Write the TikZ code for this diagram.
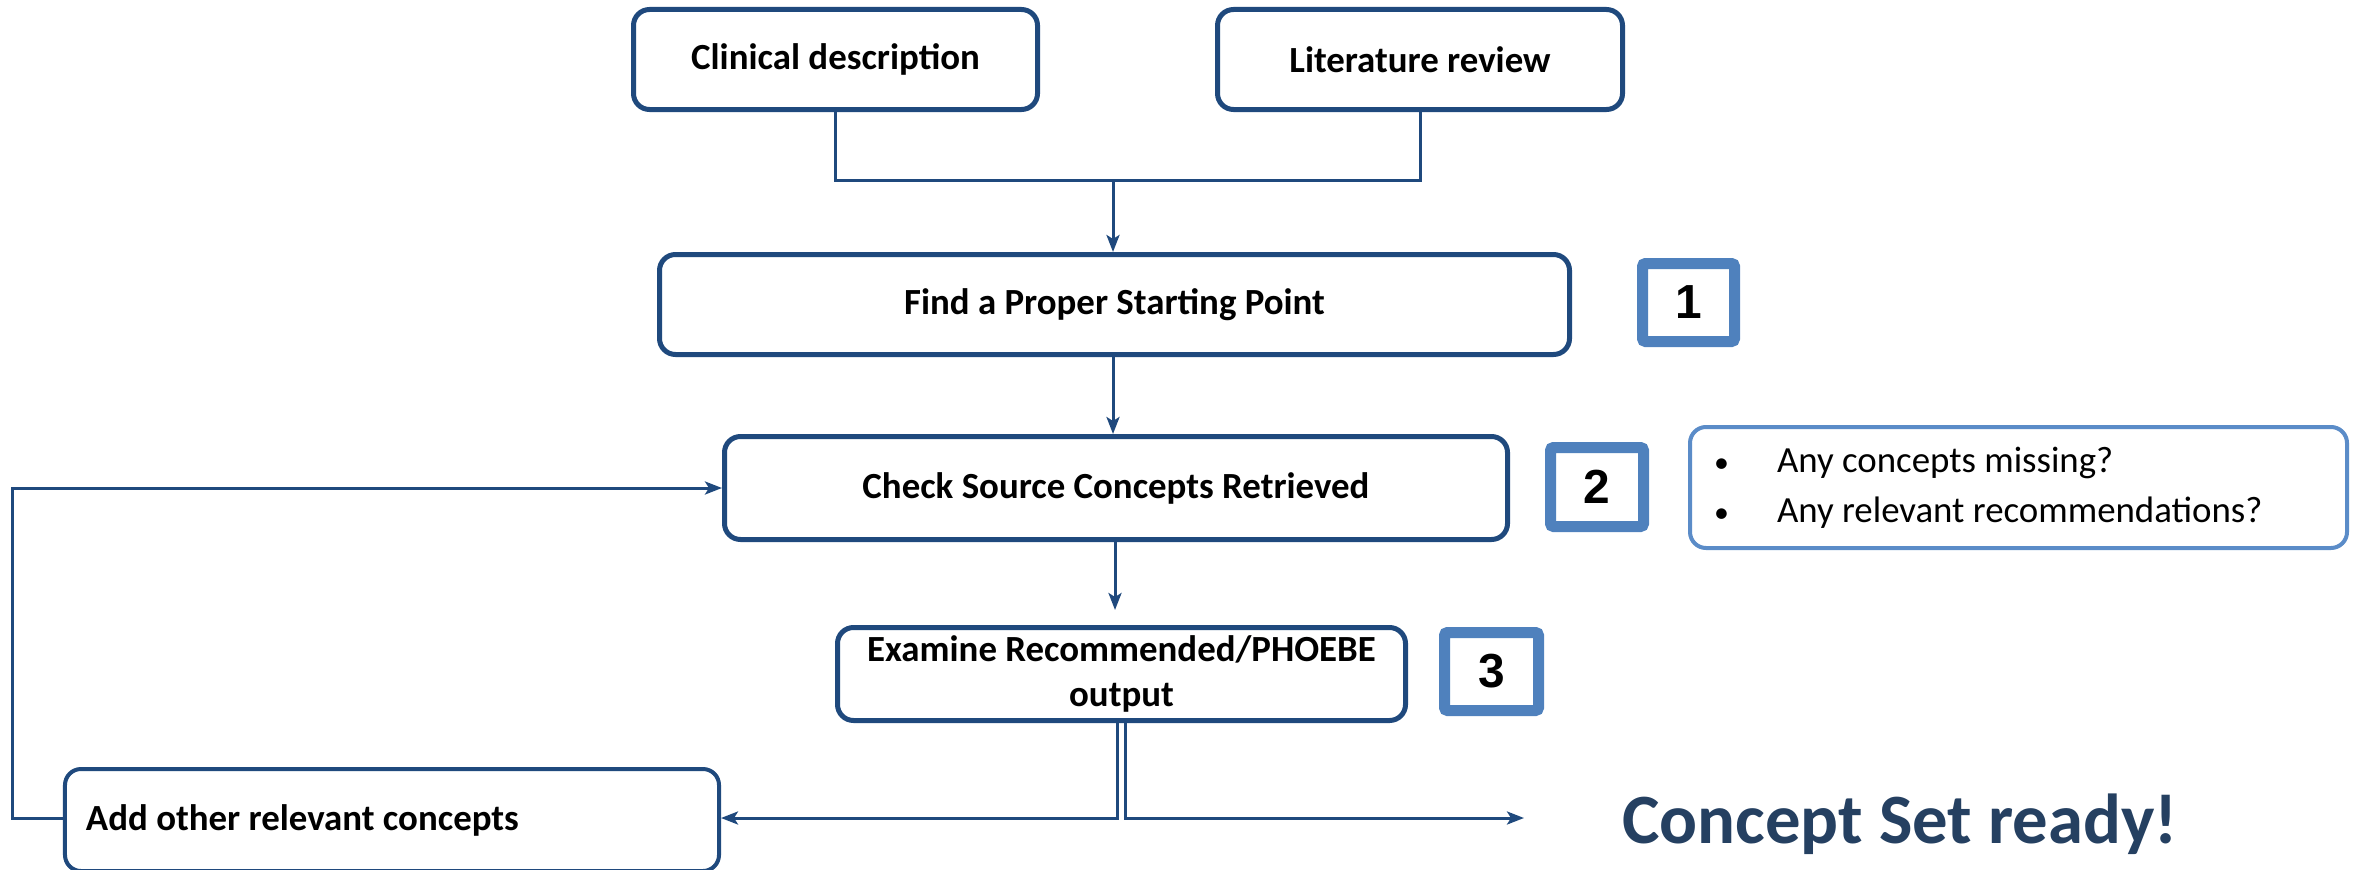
\documentclass[tikz,border=0pt]{standalone}
\usepackage{fontspec}
\setmainfont{Carlito}
\newfontfamily\numfont{Liberation Sans}
\usetikzlibrary{arrows.meta,calc}
\definecolor{boxblue}{HTML}{1F497D}
\definecolor{stepblue}{HTML}{4F81BD}
\definecolor{noteblue}{HTML}{5B8CC8}
\definecolor{readyblue}{HTML}{254061}
\newcommand{\notebullet}{\makebox[54bp][l]{\hspace{-9bp}{\fontsize{30}{30}\selectfont\textbullet}}}
\tikzset{
  stage/.style={draw=boxblue, line width=5bp, rounded corners=16bp, fill=white,
    inner sep=0pt, align=flush center, font=\fontsize{37}{45}\selectfont\bfseries},
  stepnum/.style={draw=stepblue, line width=11bp, rounded corners=3bp, fill=white,
    inner sep=0pt, font=\fontsize{48}{48}\selectfont\numfont\bfseries},
  notebox/.style={draw=noteblue, line width=4bp, rounded corners=16bp, fill=white,
    inner xsep=33bp, inner ysep=0pt, align=flush left, font=\fontsize{37}{50}\selectfont},
  conn/.style={draw=boxblue, line width=3bp},
  tip/.style={-{Stealth[length=17bp,width=13bp,inset=4bp]}}
}
\begin{document}
\begin{tikzpicture}[x=1bp, y=-1bp]
\useasboundingbox (0,0) rectangle (2353,869);
\clip (0,0) rectangle (2353,869);

% source boxes
\node[stage, minimum width=404bp, minimum height=100bp] (clin) at (835.5,59.5) {Clinical description};
\node[stage, minimum width=405bp, minimum height=100bp] (lit) at (1420,59.5) {Literature review};

% main steps
\node[stage, minimum width=910bp, minimum height=100bp] (find) at (1114.5,304.5) {Find a Proper Starting Point};
\node[stage, minimum width=783bp, minimum height=103bp] (check) at (1116,488) {Check Source Concepts Retrieved};
\node[stage, minimum width=568bp, minimum height=93bp] (exam) at (1121.5,674) {Examine Recommended/PHOEBE\\output};
\node[stage, line width=4bp, minimum width=654bp, minimum height=102bp, text width=612bp,
  inner xsep=21bp, align=flush left] (add) at (392,820) {Add other relevant concepts};

% step numbers
\node[stepnum, minimum width=92bp, minimum height=78bp] (n1) at (1688.5,302.5) {1};
\node[stepnum, minimum width=93bp, minimum height=79bp] (n2) at (1597,487) {2};
\node[stepnum, minimum width=94bp, minimum height=78bp] (n3) at (1491.5,671.5) {3};

% checklist for step 2
\node[notebox, text width=591bp, minimum height=121bp] (notes) at (2018.5,487.5)
  {\notebullet Any concepts missing?\\
   \notebullet Any relevant recommendations?};

% final result
\node[anchor=base west, inner sep=0pt, text=readyblue,
  font=\fontsize{71}{71}\selectfont\bfseries] (ready) at (1622,843) {Concept Set ready!};
\coordinate (readyend) at (1524,818);

% connectors
\coordinate (merge) at (1113,180);
\draw[conn] (clin.south) |- (merge) -| (lit.south);
\draw[conn, tip] (merge) -- (find.north -| merge);
\draw[conn, tip] (find.south -| merge) -- (check.north -| merge);
\draw[conn, tip] (check.south -| 1115,0) -- (1115,610);
\draw[conn, tip] ($(exam.south)+(-4,0)$) |- (add.east |- 0,818);
\draw[conn, tip] ($(exam.south)+(4,0)$) |- (readyend);
\draw[conn, tip] (add.west |- 0,818) -- (12,818) |- (check.west);
\end{tikzpicture}
\end{document}
